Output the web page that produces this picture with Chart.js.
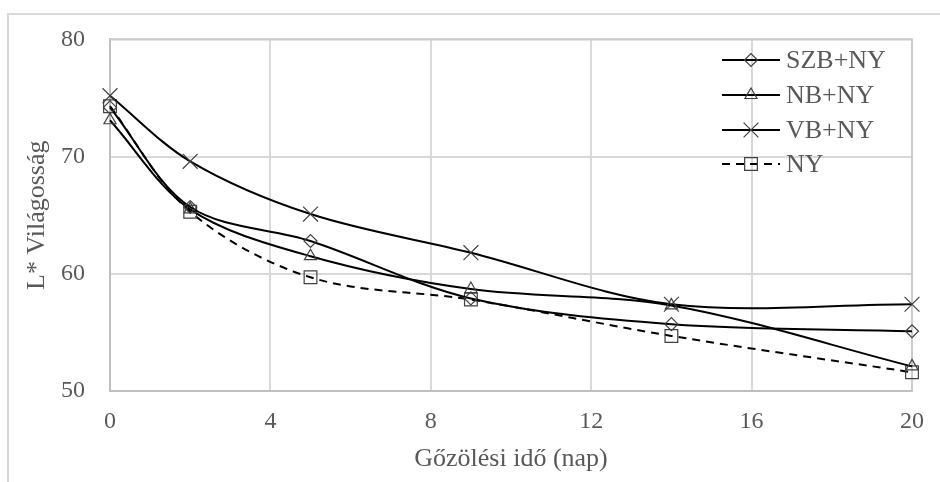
<!DOCTYPE html>
<html>
<head>
<meta charset="utf-8">
<script src="https://cdn.jsdelivr.net/npm/chart.js@4.4.1/dist/chart.umd.min.js"></script>
<style>
    html, body { margin: 0; padding: 0; background: #fff; }
    #wrap { width: 940px; height: 482px; }
</style>
</head>
<body>
<div id="wrap"><canvas id="lChart" width="940" height="482"></canvas></div>
<script>
// Data
const days = [0, 2, 5, 9, 14, 20];
const szbNy = [74.2, 65.7, 62.8, 57.9, 55.7, 55.1];
const nbNy = [73.1, 65.5, 61.5, 58.7, 57.3, 52.1];
const vbNy = [75.2, 69.6, 65.1, 61.8, 57.4, 57.4];
const ny = [74.3, 65.3, 59.7, 57.8, 54.7, 51.6];
const seriesNames = ['SZB+NY', 'NB+NY', 'VB+NY', 'NY'];
const xTicks = [0, 4, 8, 12, 16, 20];
const yTicks = [50, 60, 70, 80];

const textColor = '#595959';
const serif = "'Liberation Serif', 'Times New Roman', serif";

function toPoints(values) {
    return values.map((v, i) => ({ x: days[i], y: v }));
}

function makeSet(label, values, style, radius, dashed) {
    return {
        label: label,
        data: toPoints(values),
        borderColor: '#000',
        borderWidth: 2,
        borderDash: dashed ? [8, 6] : [],
        tension: 0.33,
        pointStyle: style,
        pointRadius: radius,
        pointHoverRadius: radius,
        pointBorderColor: '#404040',
        pointBackgroundColor: 'rgba(0,0,0,0)',
        pointBorderWidth: 1.2,
        clip: false
    };
}

// outer frame + plot border
const framePlugin = {
    id: 'frame',
    beforeDraw(chart) {
        const ctx = chart.ctx;
        ctx.save();
        ctx.strokeStyle = '#d9d9d9';
        ctx.lineWidth = 2;
        ctx.beginPath();
        ctx.moveTo(8, 482);
        ctx.lineTo(8, 14);
        ctx.lineTo(940, 14);
        ctx.stroke();
        ctx.restore();
    }
};

function drawMarker(ctx, style, r, x, y) {
    ctx.beginPath();
    if (style === 'rectRot') {
        ctx.moveTo(x - r, y); ctx.lineTo(x, y - r); ctx.lineTo(x + r, y); ctx.lineTo(x, y + r); ctx.closePath();
    } else if (style === 'triangle') {
        ctx.moveTo(x, y - r);
        ctx.lineTo(x + r * Math.sin(Math.PI * 2 / 3), y - r * Math.cos(Math.PI * 2 / 3));
        ctx.lineTo(x - r * Math.sin(Math.PI * 2 / 3), y - r * Math.cos(Math.PI * 2 / 3));
        ctx.closePath();
    } else if (style === 'crossRot') {
        const o = r * Math.SQRT1_2;
        ctx.moveTo(x - o, y - o); ctx.lineTo(x + o, y + o);
        ctx.moveTo(x + o, y - o); ctx.lineTo(x - o, y + o);
    } else if (style === 'rect') {
        const s = r * Math.SQRT1_2;
        ctx.rect(x - s, y - s, 2 * s, 2 * s);
    }
    ctx.stroke();
}

// legend drawn like the Excel one: line with marker, then text
const legendPlugin = {
    id: 'lineLegend',
    afterDatasetsDraw(chart) {
        const ctx = chart.ctx;
        const rows = [60, 95, 130, 164];
        ctx.save();
        chart.data.datasets.forEach((ds, i) => {
            const y = rows[i];
            ctx.strokeStyle = ds.borderColor;
            ctx.lineWidth = ds.borderWidth;
            ctx.setLineDash(ds.borderDash);
            ctx.beginPath();
            ctx.moveTo(722, y);
            ctx.lineTo(780, y);
            ctx.stroke();
            ctx.setLineDash([]);
            ctx.strokeStyle = ds.pointBorderColor;
            ctx.lineWidth = ds.pointBorderWidth;
            drawMarker(ctx, ds.pointStyle, ds.pointRadius, 751, y);
            ctx.fillStyle = textColor;
            ctx.font = '26px ' + serif;
            ctx.textAlign = 'left';
            ctx.textBaseline = 'middle';
            ctx.fillText(ds.label, 786, y + 1);
        });
        ctx.restore();
    }
};

const borderPlugin = {
    id: 'plotBorder',
    beforeDatasetsDraw(chart) {
        const a = chart.chartArea;
        const ctx = chart.ctx;
        ctx.save();
        ctx.strokeStyle = '#cccccc';
        ctx.lineWidth = 2;
        ctx.beginPath();
        ctx.moveTo(a.left, a.top);
        ctx.lineTo(a.right, a.top);
        ctx.lineTo(a.right, a.bottom);
        ctx.stroke();
        ctx.restore();
    }
};

const ctx = document.getElementById('lChart').getContext('2d');
const lChart = new Chart(ctx, {
    type: 'line',
    data: {
        datasets: [
            makeSet(seriesNames[0], szbNy, 'rectRot', 6.5, false),
            makeSet(seriesNames[1], nbNy, 'triangle', 7, false),
            makeSet(seriesNames[2], vbNy, 'crossRot', 10.5, false),
            makeSet(seriesNames[3], ny, 'rect', 9, true)
        ]
    },
    options: {
        responsive: false,
        animation: false,
        devicePixelRatio: 1,
        layout: { padding: { left: 0, top: 38, right: 27, bottom: 0 } },
        plugins: {
            legend: { display: false },
            tooltip: { enabled: false }
        },
        scales: {
            x: {
                type: 'linear',
                min: 0,
                max: 20,
                afterBuildTicks(scale) { scale.ticks = xTicks.map(v => ({ value: v })); },
                afterFit(scale) { scale.height = 91; },
                ticks: { color: textColor, font: { family: serif, size: 24 }, padding: 16 },
                grid: { color: '#d9d9d9', lineWidth: 2, drawTicks: false },
                border: { color: '#bfbfbf', width: 2 },
                title: {
                    display: true,
                    text: 'Gőzölési idő (nap)',
                    color: textColor,
                    font: { family: serif, size: 26 },
                    padding: { top: 0, bottom: 7 }
                }
            },
            y: {
                min: 50,
                max: 80,
                afterBuildTicks(scale) { scale.ticks = yTicks.map(v => ({ value: v })); },
                afterFit(scale) { scale.width = 110; },
                ticks: { color: textColor, font: { family: serif, size: 24 }, padding: 25 },
                grid: { color: '#d9d9d9', lineWidth: 2, drawTicks: false },
                border: { color: '#bfbfbf', width: 2 },
                title: {
                    display: true,
                    text: 'L* Világosság',
                    color: textColor,
                    font: { family: serif, size: 26 },
                    padding: { top: 22, bottom: 0 }
                }
            }
        }
    },
    plugins: [framePlugin, borderPlugin, legendPlugin]
});
</script>
</body>
</html>
